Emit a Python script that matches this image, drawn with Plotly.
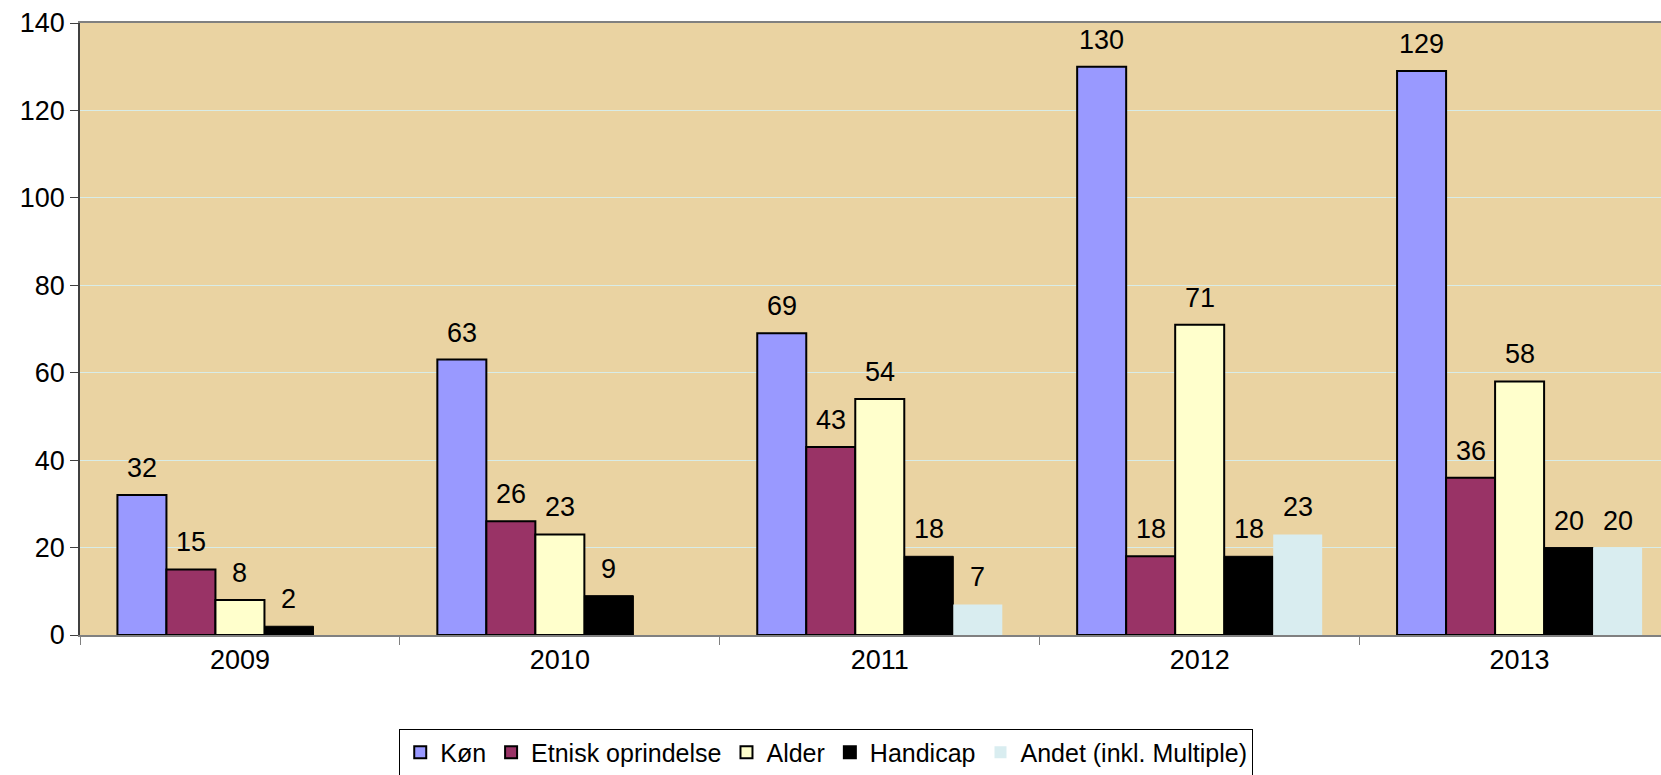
import plotly.graph_objects as go

years = ["2009", "2010", "2011", "2012", "2013"]
series_names = ["Køn", "Etnisk oprindelse", "Alder", "Handicap", "Andet (inkl. Multiple)"]
kon = [32, 63, 69, 130, 129]
etnisk = [15, 26, 43, 18, 36]
alder = [8, 23, 54, 71, 58]
handicap = [2, 9, 18, 18, 20]
andet = [None, None, 7, 23, 20]
y_ticks = [0, 20, 40, 60, 80, 100, 120, 140]

series_values = [kon, etnisk, alder, handicap, andet]
colors = ["#9999FF", "#993366", "#FFFFCC", "#000000", "#D9EDF0"]
line_widths = [2, 2, 2, 1, 0]

W, H = 1661, 775
ML, MR, MT, MB = 80, 0, 23, 140
BARGAP = 0.234
X_MAX = 4.442
FONT = "Liberation Sans, Arial, sans-serif"

fig = go.Figure()
for name, vals, col, lw in zip(series_names, series_values, colors, line_widths):
    fig.add_trace(go.Bar(
        x=years, y=vals, name=name,
        marker=dict(color=col, line=dict(color="#000000", width=lw)),
    ))

# data labels above bars
plot_w = W - ML - MR
px_per_cat = plot_w / (X_MAX + 0.5)
bar_px = (1 - BARGAP) * px_per_cat / len(series_names)
for i, vals in enumerate(series_values):
    for j, v in enumerate(vals):
        if v is None:
            continue
        fig.add_annotation(
            x=j, y=v, xref="x", yref="y", text=str(v), showarrow=False,
            xanchor="center", yanchor="bottom",
            xshift=(i - 2) * bar_px, yshift=10,
            font=dict(family=FONT, size=27, color="#000000"),
        )

fig.update_layout(
    width=W, height=H,
    margin=dict(l=ML, r=MR, t=MT, b=MB, autoexpand=False),
    paper_bgcolor="#FFFFFF",
    plot_bgcolor="#EAD3A2",
    barmode="group", bargap=BARGAP, bargroupgap=0,
    font=dict(family=FONT, size=27, color="#000000"),
    showlegend=True,
    legend=dict(
        orientation="h", x=0.472, xanchor="center",
        yref="container", y=0.06, yanchor="top",
        font=dict(family=FONT, size=25, color="#000000"),
        bordercolor="#000000", borderwidth=1, bgcolor="#FFFFFF",
        itemsizing="constant",
    ),
    xaxis=dict(
        type="category", range=[-0.5, X_MAX],
        showline=True, linecolor="#808080", linewidth=2, mirror=True,
        ticks="outside", tickson="boundaries", ticklen=8, tickcolor="#808080",
        showgrid=False, tickfont=dict(size=27, family=FONT),
    ),
    yaxis=dict(
        range=[0, 140], tickvals=y_ticks,
        showline=True, linecolor="#404040", linewidth=1.5,
        ticks="outside", ticklen=8, tickcolor="#404040",
        showgrid=True, gridcolor="#D8ECE8", gridwidth=1,
        zeroline=False, tickfont=dict(size=27, family=FONT),
    ),
)

fig.write_html("out.html")
